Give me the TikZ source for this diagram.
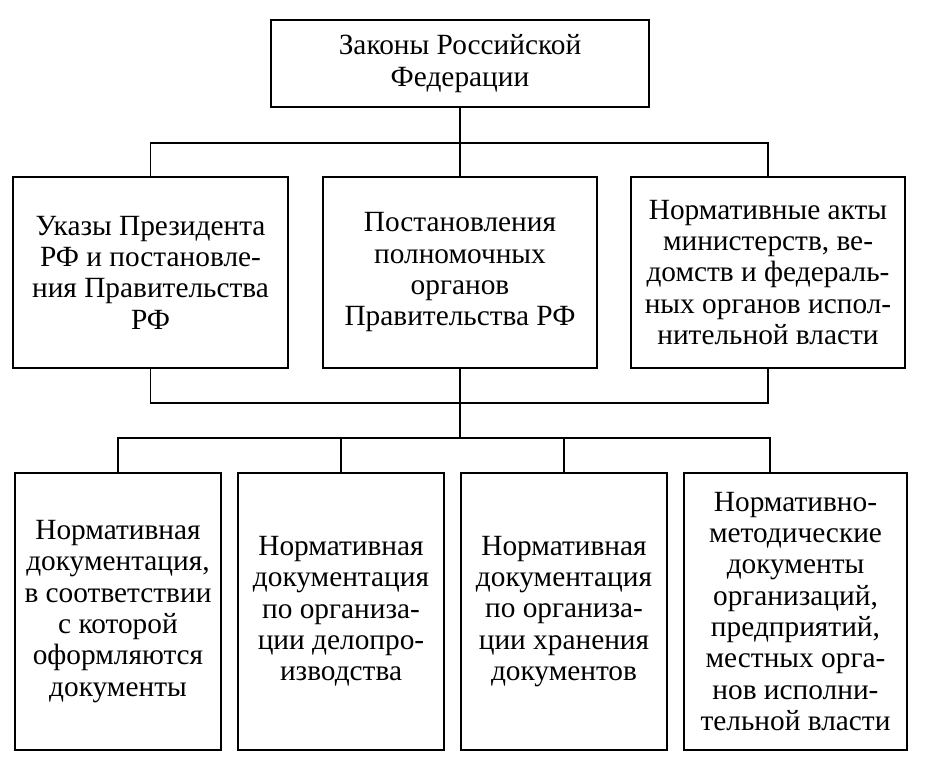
\documentclass[tikz,border=0pt]{standalone}
\usepackage{fontspec}
\setmainfont{Liberation Serif}
\begin{document}
\begin{tikzpicture}[x=0.75pt,y=-0.75pt,
  box/.style={draw, line width=1.1pt, rectangle, align=center, inner sep=0pt,
    font=\fontsize{22}{23.5}\selectfont},
  conn/.style={line width=1.1pt}]
\useasboundingbox (0,0) rectangle (927,771);
\node[box, minimum width=283.5pt, minimum height=65.25pt] (top) at (460,63.5)
  {Законы Российской\\Федерации};
\node[box, minimum width=206.25pt, minimum height=143.25pt] (m1) at (150.5,272.5)
  {Указы Президента\\РФ и постановле-\\ния Правительства\\РФ};
\node[box, minimum width=205.5pt, minimum height=143.25pt] (m2) at (460,272.5)
  {Постановления\\полномочных\\органов\\Правительства РФ};
\node[box, minimum width=205.5pt, minimum height=143.25pt] (m3) at (768,272.5)
  {Нормативные акты\\министерств, ве-\\домств и федераль-\\ных органов испол-\\нительной власти};
\node[box, minimum width=154.5pt, minimum height=207.75pt] (ba) at (118,611.5)
  {Нормативная\\документация,\\в соответствии\\с которой\\оформляются\\документы};
\node[box, minimum width=154.5pt, minimum height=207.75pt] (bb) at (341,611.5)
  {Нормативная\\документация\\по организа-\\ции делопро-\\изводства};
\node[box, minimum width=154.5pt, minimum height=207.75pt] (bc) at (564,611.5)
  {Нормативная\\документация\\по организа-\\ции хранения\\документов};
\node[box, minimum width=167.25pt, minimum height=207.75pt] (bd) at (795.5,611.5)
  {Нормативно-\\методические\\документы\\организаций,\\предприятий,\\местных орга-\\нов исполни-\\тельной власти};
\coordinate (j1) at (460,143);
\coordinate (j2) at (460,403);
\coordinate (j3) at (460,438);
\coordinate (d4) at (770,473);
\draw[conn] (top.south) -- (m2.north);
\draw[conn] (m1.north) |- (j1) -| (m3.north);
\draw[conn] (m1.south) |- (j2) -| (m3.south);
\draw[conn] (m2.south) -- (j3);
\draw[conn] (ba.north) |- (j3) -| (d4);
\draw[conn] (bb.north) |- (j3);
\draw[conn] (bc.north) |- (j3);
\end{tikzpicture}
\end{document}
